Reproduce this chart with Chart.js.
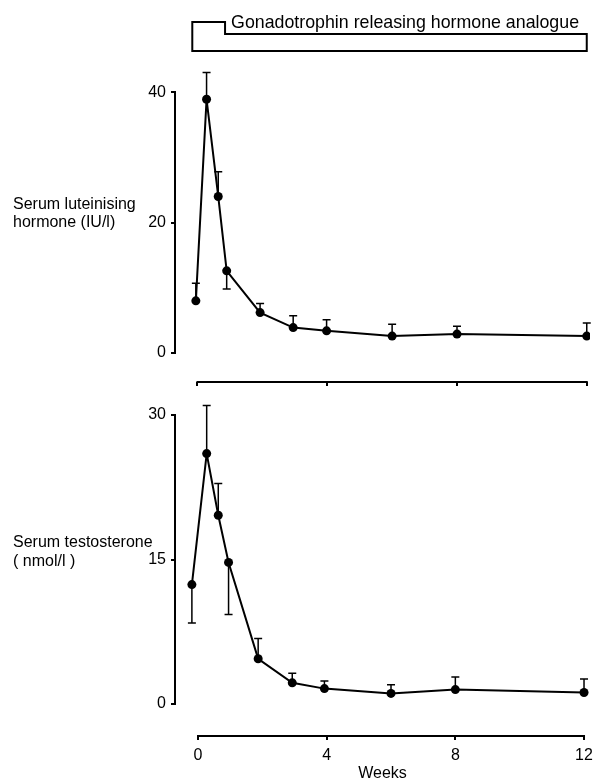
<!DOCTYPE html>
<html>
<head>
<meta charset="utf-8">
<script src="https://cdn.jsdelivr.net/npm/chart.js@4.4.0/dist/chart.umd.min.js"></script>
<style>
  body { margin: 0; background: #fff; }
  #wrap { position: relative; width: 593px; height: 783px; }
  canvas { position: absolute; left: 0; }
  #lhChart { top: 0; }
  #testChart { top: 390px; }
</style>
</head>
<body>
<div id="wrap">
  <canvas id="lhChart" width="593" height="390"></canvas>
  <canvas id="testChart" width="593" height="393"></canvas>
</div>
<script>
// (mean, and the one-sided SEM bar: negative = drawn downwards)
const lhWeeks = [-0.05, 0.28, 0.64, 0.9, 1.93, 2.95, 3.98, 6, 8, 12];
const lhValues = [8.0, 38.9, 24.0, 12.6, 6.2, 3.9, 3.4, 2.6, 2.9, 2.6];
const lhErrors = [2.7, 4.1, 3.8, -2.8, 1.4, 1.8, 1.7, 1.8, 1.2, 2.0];

const testWeeks = [-0.19, 0.27, 0.63, 0.95, 1.87, 2.93, 3.93, 6, 8, 12];
const testValues = [12.4, 26.0, 19.6, 14.7, 4.7, 2.2, 1.6, 1.1, 1.5, 1.2];
const testErrors = [-4.0, 5.0, 3.3, -5.4, 2.1, 1.0, 0.8, 0.9, 1.3, 1.4];

const weekTicks = [0, 4, 8, 12];
const lhTicks = [0, 20, 40];
const testTicks = [0, 15, 30];

// start of treatment, step down to maintenance dose, end
const treatmentWeeks = [-0.16, 0.85, 12];
const treatmentLabel = "Gonadotrophin releasing hormone analogue";
const lhLabel = ["Serum luteinising", "hormone (IU/l)"];
const testLabel = ["Serum testosterone", "( nmol/l )"];

const FONT = "'Liberation Sans', Arial, sans-serif";
Chart.defaults.font.family = FONT;
Chart.defaults.color = "#000";

// axis lines run only from first to last tick, as in the printed figure
const axisLines = {
  id: "axisLines",
  afterDraw(chart) {
    const { ctx, chartArea, scales: { x, y } } = chart;
    const yt = y.ticks, xt = x.ticks;
    ctx.save();
    ctx.strokeStyle = "#000";
    ctx.lineWidth = 2;
    ctx.beginPath();
    ctx.moveTo(chartArea.left, y.getPixelForValue(yt[0].value) + 1);
    ctx.lineTo(chartArea.left, y.getPixelForValue(yt[yt.length - 1].value) - 1);
    ctx.moveTo(x.getPixelForValue(xt[0].value) - 1, chartArea.bottom);
    ctx.lineTo(x.getPixelForValue(xt[xt.length - 1].value) + 1, chartArea.bottom);
    ctx.stroke();
    ctx.restore();
  }
};

const errorBars = {
  id: "errorBars",
  beforeDatasetsDraw(chart) {
    const { ctx, scales: { x, y } } = chart;
    ctx.save();
    ctx.strokeStyle = "#000";
    ctx.lineWidth = 1.5;
    chart.data.datasets.forEach(ds => {
      ds.data.forEach((p, i) => {
        const px = x.getPixelForValue(p.x);
        const y0 = y.getPixelForValue(p.y);
        const y1 = y.getPixelForValue(p.y + ds.errors[i]);
        ctx.beginPath();
        ctx.moveTo(px, y0);
        ctx.lineTo(px, y1);
        ctx.moveTo(px - 4, y1);
        ctx.lineTo(px + 4, y1);
        ctx.stroke();
      });
    });
    ctx.restore();
  }
};

// horizontal y-axis caption to the left of the axis
const sideLabel = {
  id: "sideLabel",
  afterDraw(chart, args, opts) {
    const { ctx } = chart;
    ctx.save();
    ctx.font = "16px " + FONT;
    ctx.fillStyle = "#000";
    ctx.textBaseline = "alphabetic";
    opts.lines.forEach((t, i) => ctx.fillText(t, opts.left, opts.baselines[i]));
    ctx.restore();
  }
};

const treatmentBar = {
  id: "treatmentBar",
  afterDraw(chart) {
    const { ctx, scales: { x } } = chart;
    const [a, b, c] = treatmentWeeks.map(w => x.getPixelForValue(w));
    const top = 22, step = 34, bottom = 51;
    ctx.save();
    ctx.strokeStyle = "#000";
    ctx.lineWidth = 2;
    ctx.beginPath();
    ctx.moveTo(a, bottom);
    ctx.lineTo(a, top);
    ctx.lineTo(b, top);
    ctx.lineTo(b, step);
    ctx.lineTo(c, step);
    ctx.lineTo(c, bottom);
    ctx.closePath();
    ctx.stroke();
    ctx.font = "17.8px " + FONT;
    ctx.fillStyle = "#000";
    ctx.textBaseline = "alphabetic";
    ctx.fillText(treatmentLabel, b + 6, 28);
    ctx.restore();
  }
};

const gridOpts = { drawOnChartArea: false, drawTicks: true, tickLength: 4, color: "#000", lineWidth: 2 };

function panel(canvasId, weeks, values, errors, p) {
  return new Chart(document.getElementById(canvasId), {
    type: "line",
    data: {
      datasets: [{
        data: weeks.map((w, i) => ({ x: w, y: values[i] })),
        errors: errors,
        borderColor: "#000",
        borderWidth: 2,
        tension: 0,
        pointRadius: 4.5,
        pointHoverRadius: 4.5,
        pointBackgroundColor: "#000",
        pointBorderWidth: 0
      }]
    },
    options: {
      responsive: false,
      animation: false,
      events: [],
      layout: { padding: { top: p.padTop, left: 0, right: 3, bottom: 0 }, autoPadding: false },
      plugins: {
        legend: { display: false },
        tooltip: { enabled: false },
        sideLabel: p.side
      },
      scales: {
        x: {
          type: "linear",
          min: p.xMin,
          max: p.xMax,
          grid: gridOpts,
          border: { display: false },
          ticks: { display: p.showWeeks, padding: 6, font: { size: 16 } },
          title: { display: p.showWeeks, text: "Weeks", font: { size: 16 }, padding: { top: 0, bottom: 0 } },
          afterBuildTicks: s => { s.ticks = weekTicks.map(v => ({ value: v })); },
          afterFit: s => { s.height = p.xHeight; s.paddingLeft = 0; s.paddingRight = 0; }
        },
        y: {
          min: p.yMin,
          max: p.yMax,
          grid: gridOpts,
          border: { display: false },
          ticks: { padding: 5, font: { size: 16 } },
          afterBuildTicks: s => { s.ticks = p.yTicks.map(v => ({ value: v })); },
          afterFit: s => { s.width = 175; s.paddingTop = 0; s.paddingBottom = 0; }
        }
      }
    },
    plugins: p.extra.concat([axisLines, errorBars, sideLabel])
  });
}

panel("lhChart", lhWeeks, lhValues, lhErrors, {
  padTop: 66, xHeight: 8, xMin: -0.693, xMax: 12.1, yMin: -4.44, yMax: 44, yTicks: lhTicks, showWeeks: false,
  side: { lines: lhLabel, left: 13, baselines: [209, 227] },
  extra: [treatmentBar]
});

panel("testChart", testWeeks, testValues, testErrors, {
  padTop: 1, xHeight: 47, xMin: -0.715, xMax: 12.186, yMin: -3.32, yMax: 32.5, yTicks: testTicks, showWeeks: true,
  side: { lines: testLabel, left: 13, baselines: [157, 176] },
  extra: []
});
</script>
</body>
</html>
